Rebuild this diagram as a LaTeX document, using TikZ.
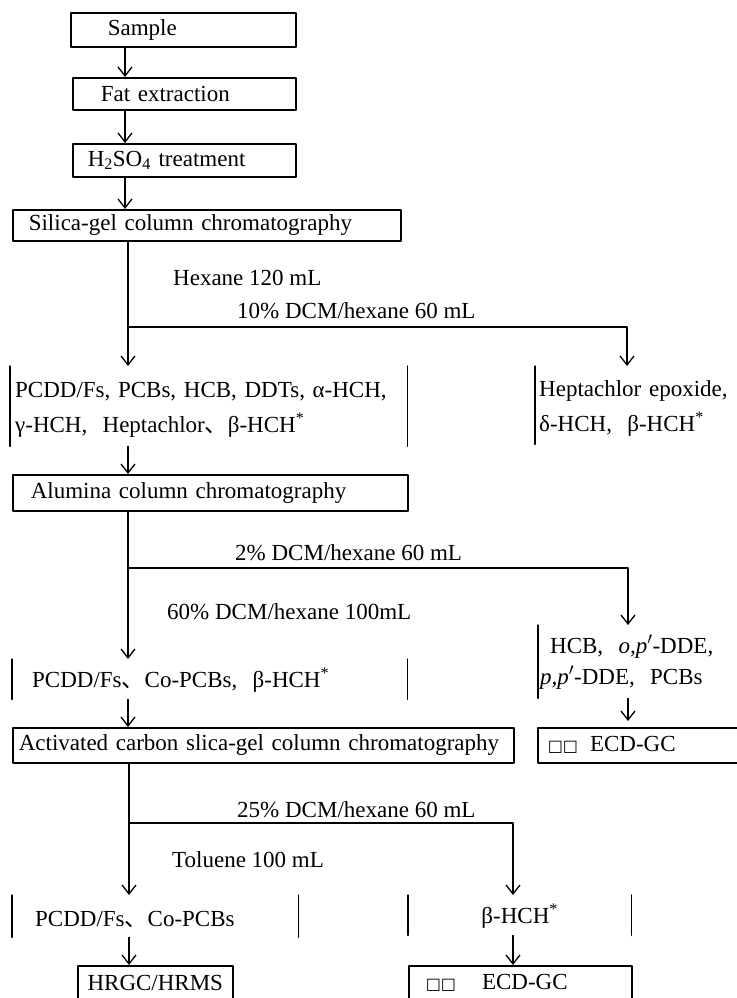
\documentclass[tikz,border=0pt]{standalone}
\usepackage{fontspec}
\setmainfont{Liberation Serif}
\newfontfamily\symfont{DejaVu Sans}
\newfontfamily\cjk{Noto Sans CJK SC}
\usetikzlibrary{arrows.meta}

\newcommand{\icomma}{{\cjk 、}}
\newcommand{\blanks}{{\symfont\fontsize{16}{16}\selectfont □□}}
\newcommand{\topstrut}{\rule{0pt}{22pt}}

\begin{document}
\begin{tikzpicture}[x=1pt, y=-1pt, >={Straight Barb[length=9pt, width=14pt]},
	line cap=round, line join=round, font=\fontsize{23}{35}\selectfont,
	stage/.style={draw, line width=1.6pt, anchor=north west, align=left, inner ysep=0pt},
	pool/.style={anchor=north west, align=left, inner ysep=0pt},
	cond/.style={anchor=west, inner sep=0pt},
	flow/.style={->, line width=1.3pt},
	bar/.style={line width=1.3pt}]
	
	\useasboundingbox (0,0) rectangle (736,998);
	
	% column axes
	\coordinate (top) at (125,0);
	\coordinate (axis) at (128,0);
	\coordinate (axisb) at (129,0);
	\coordinate (right1) at (627,0);
	\coordinate (right2) at (628,0);
	\coordinate (right3) at (513,0);
	
	%========================
	% clean-up steps
	%========================
	\node[stage, inner xsep=37pt, text width=151pt, minimum height=34pt] (sample) at (70,12) {Sample};
	\node[stage, inner xsep=28pt, text width=167pt, minimum height=32pt] (fat) at (72,77) {Fat extraction};
	\node[stage, inner xsep=15pt, text width=193pt, minimum height=33pt] (acid) at (72,143) {H\textsubscript{2}SO\textsubscript{4} treatment};
	\node[stage, inner xsep=16pt, text width=356pt, minimum height=31pt] (silica) at (12,209) {Silica-gel column chromatography};
	
	\draw[flow] (sample.south -| top) -- (fat.north -| top);
	\draw[flow] (fat.south -| top) -- (acid.north -| top);
	\draw[flow] (acid.south -| top) -- (silica.north -| top);
	
	%========================
	% silica-gel fractions
	%========================
	\node[cond] (hex) at (173,278) {Hexane 120 mL};
	\node[cond] (dcm10) at (237,311) {10\% DCM/hexane 60 mL};
	\coordinate (split1) at (128,327);
	
	\node[pool, inner xsep=5pt, text width=387pt, minimum height=80pt] (pool1) at (10,366)
	{\topstrut PCDD/Fs, PCBs, HCB, DDTs, α-HCH,\\γ-HCH,\ \ Heptachlor\icomma β-HCH\textsuperscript{*}};
	\draw[bar] (pool1.north west) -- (pool1.south west);
	\draw[bar] (pool1.north east) -- (pool1.south east);
	
	\node[pool, inner xsep=4pt, text width=200pt, minimum height=78pt] (pool1r) at (535,366)
	{\topstrut Heptachlor epoxide,\\δ-HCH,\ \ β-HCH\textsuperscript{*}};
	\draw[bar] (pool1r.north west) -- (pool1r.south west);
	
	\draw[flow] (silica.south -| axis) -- (pool1.north -| axis);
	\draw[flow] (split1) -| (pool1r.north -| right1);
	
	%========================
	% alumina fractions
	%========================
	\node[stage, inner xsep=18pt, text width=359pt, minimum height=36pt] (alumina) at (12,474) {Alumina column chromatography};
	\draw[flow] (pool1.south -| axis) -- (alumina.north -| axis);
	
	\node[cond] (dcm2) at (235,553) {2\% DCM/hexane 60 mL};
	\node[cond] (dcm60) at (167,612) {60\% DCM/hexane 100mL};
	\coordinate (split2) at (128,568);
	
	\node[pool, inner xsep=20pt, text width=355pt, minimum height=40pt] (pool2) at (12,659)
	{\topstrut PCDD/Fs\icomma Co-PCBs,\ \ β-HCH\textsuperscript{*}};
	\draw[bar] (pool2.north west) -- (pool2.south west);
	\draw[bar] (pool2.north east) -- (pool2.south east);
	
	\node[pool, inner xsep=2pt, text width=194pt, minimum height=73pt, font=\fontsize{23}{31}\selectfont] (pool2r) at (538,625)
	{\hspace*{10pt}HCB,\ \ \textit{o,p}$'$-DDE,\\\textit{p,p}$'$-DDE,\ \ PCBs};
	\draw[bar] (pool2r.north west) -- (pool2r.south west);
	
	\draw[flow] (alumina.south -| axis) -- (pool2.north -| axis);
	\draw[flow] (split2) -| (pool2r.north -| right2);
	
	%========================
	% carbon column fractions
	%========================
	\node[stage, inner xsep=6pt, text width=489pt, minimum height=35pt] (carbon) at (12,727) {Activated carbon slica-gel column chromatography};
	\node[stage, inner xsep=10pt, text width=183pt, minimum height=35pt] (ecd1) at (537,727) {\blanks\hspace{12pt}ECD-GC};
	\draw[flow] (pool2.south -| axis) -- (carbon.north -| axis);
	\draw[flow, shorten >=6pt] (pool2r.south -| right2) -- (ecd1.north -| right2);
	
	\node[cond] (dcm25) at (237,810) {25\% DCM/hexane 60 mL};
	\node[cond] (tol) at (172,860) {Toluene 100 mL};
	\coordinate (split3) at (129,823);
	
	\node[pool, inner xsep=23pt, text width=240pt, minimum height=42pt] (pool3) at (12,895)
	{\topstrut PCDD/Fs\icomma Co-PCBs};
	\draw[bar] (pool3.north west) -- (pool3.south west);
	\draw[bar] (pool3.north east) -- (pool3.south east);
	
	\node[pool, align=center, inner xsep=0pt, text width=223pt, minimum height=40pt] (pool3r) at (408,895)
	{\topstrut β-HCH\textsuperscript{*}};
	\draw[bar] (pool3r.north west) -- (pool3r.south west);
	\draw[bar] (pool3r.north east) -- (pool3r.south east);
	
	\draw[flow] (carbon.south -| axisb) -- (pool3.north -| axisb);
	\draw[flow] (split3) -| (pool3r.north -| right3);
	
	%========================
	% detection
	%========================
	\node[stage, align=center, inner xsep=0pt, text width=155pt, minimum height=34pt] (hrms) at (77,965) {HRGC/HRMS};
	\node[stage, inner xsep=17pt, text width=189pt, minimum height=34pt] (ecd2) at (408,965) {\blanks\hspace{26pt}ECD-GC};
	\draw[flow] (pool3.south -| axisb) -- (hrms.north -| axisb);
	\draw[flow] (pool3r.south -| right3) -- (ecd2.north -| right3);
	
\end{tikzpicture}
\end{document}
